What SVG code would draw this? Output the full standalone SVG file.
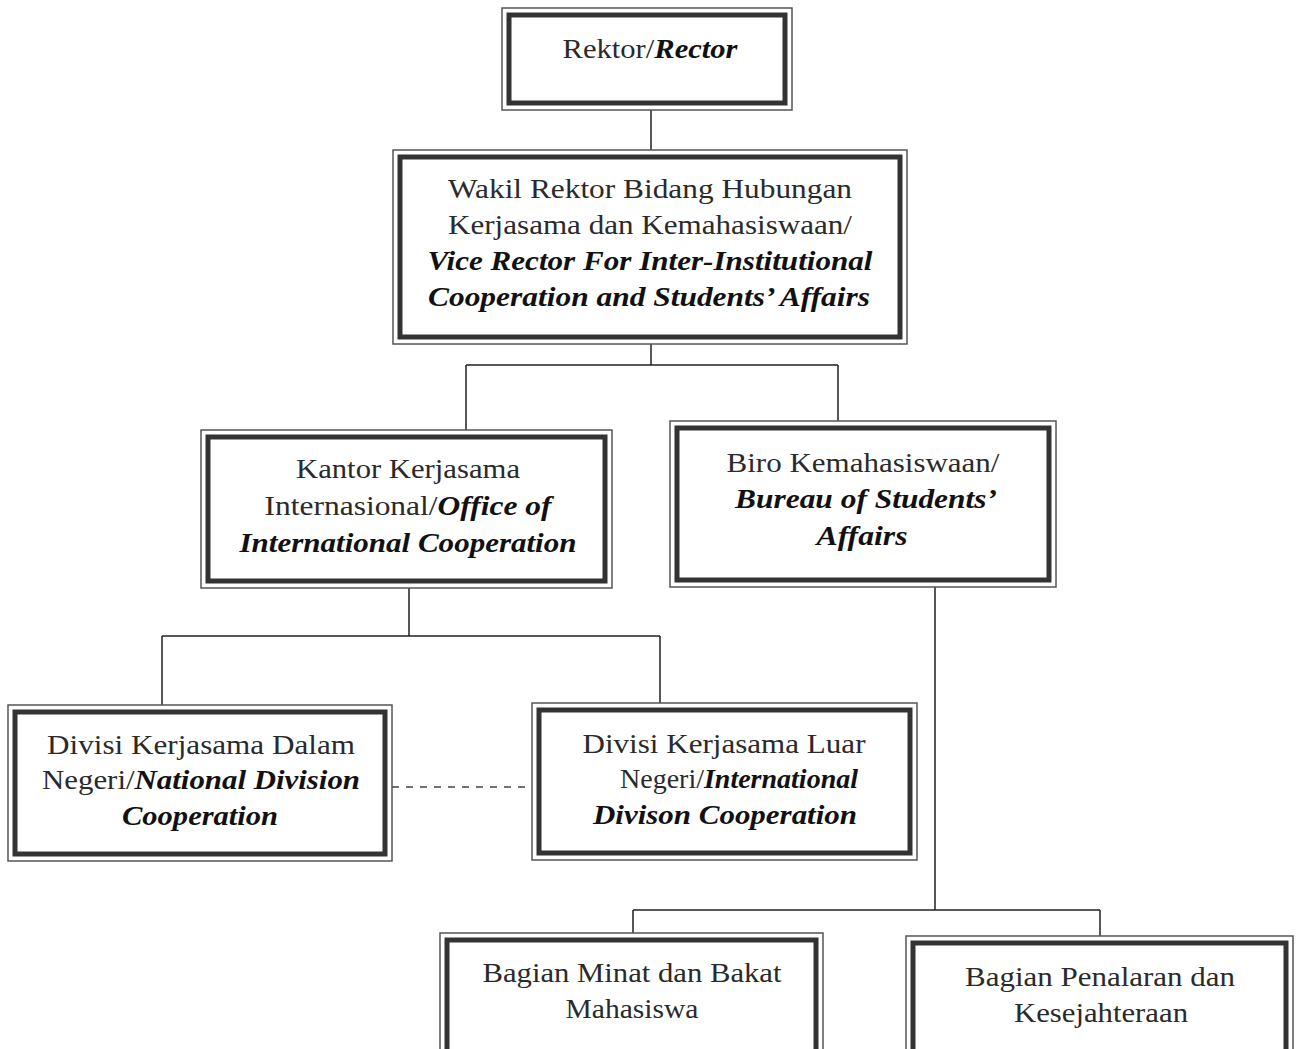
<svg xmlns="http://www.w3.org/2000/svg" width="1297" height="1049" viewBox="0 0 1297 1049">
<style>
.outer{fill:none;stroke:#555;stroke-width:1.5}
.inner{fill:#fff;stroke:#333;stroke-width:5}
text{font-family:"Liberation Serif","Times New Roman",serif}
.t{font-size:28px;fill:#2a2a2a;text-anchor:middle}
.bi{font-weight:bold;font-style:italic;fill:#111}
.c{fill:none;stroke:#222;stroke-width:1.5}
.d{fill:none;stroke:#444;stroke-width:1.5;stroke-dasharray:7 7}
</style>
<rect width="1297" height="1049" fill="#fff"/>
<g id="connectors">
<path class="c" d="M651 110V150M651 344V365M466 365H838M466 365V430M838 365V421"/>
<path class="c" d="M409 588V636M162 636H660M162 636V705M660 636V703"/>
<path class="d" d="M392 787H532"/>
<path class="c" d="M935 587V910M633 910H1100M633 910V933M1100 910V936"/>
</g>
<g id="rektor">
<rect class="outer" x="502" y="8" width="290" height="102"/>
<rect class="inner" x="509" y="15" width="276" height="88"/>
<text class="t" x="650" y="58" textLength="175" lengthAdjust="spacingAndGlyphs">Rektor/<tspan class="bi">Rector</tspan></text>
</g>
<g id="wakil">
<rect class="outer" x="393" y="150" width="514" height="194"/>
<rect class="inner" x="400" y="157" width="500" height="180"/>
<text class="t" x="650" y="198" textLength="404" lengthAdjust="spacingAndGlyphs">Wakil Rektor Bidang Hubungan</text>
<text class="t" x="650" y="234" textLength="404" lengthAdjust="spacingAndGlyphs">Kerjasama dan Kemahasiswaan/</text>
<text class="t bi" x="650" y="270" textLength="445" lengthAdjust="spacingAndGlyphs">Vice Rector For Inter-Institutional</text>
<text class="t bi" x="649" y="306" textLength="442" lengthAdjust="spacingAndGlyphs">Cooperation and Students’ Affairs</text>
</g>
<g id="kantor">
<rect class="outer" x="201" y="430" width="411" height="158"/>
<rect class="inner" x="208" y="437" width="397" height="144"/>
<text class="t" x="408" y="478" textLength="224" lengthAdjust="spacingAndGlyphs">Kantor Kerjasama</text>
<text class="t" x="408" y="515" textLength="287" lengthAdjust="spacingAndGlyphs">Internasional/<tspan class="bi">Office of</tspan></text>
<text class="t bi" x="408" y="552" textLength="337" lengthAdjust="spacingAndGlyphs">International Cooperation</text>
</g>
<g id="biro">
<rect class="outer" x="670" y="421" width="386" height="166"/>
<rect class="inner" x="677" y="428" width="372" height="152"/>
<text class="t" x="863" y="472" textLength="273" lengthAdjust="spacingAndGlyphs">Biro Kemahasiswaan/</text>
<text class="t bi" x="866" y="508" textLength="262" lengthAdjust="spacingAndGlyphs">Bureau of Students’</text>
<text class="t bi" x="862" y="545" textLength="91" lengthAdjust="spacingAndGlyphs">Affairs</text>
</g>
<g id="divisi-dalam">
<rect class="outer" x="8" y="705" width="384" height="156"/>
<rect class="inner" x="15" y="712" width="370" height="142"/>
<text class="t" x="201" y="754" textLength="308" lengthAdjust="spacingAndGlyphs">Divisi Kerjasama Dalam</text>
<text class="t" x="201" y="789" textLength="318" lengthAdjust="spacingAndGlyphs">Negeri/<tspan class="bi">National Division</tspan></text>
<text class="t bi" x="200" y="825" textLength="156" lengthAdjust="spacingAndGlyphs">Cooperation</text>
</g>
<g id="divisi-luar">
<rect class="outer" x="532" y="703" width="385" height="157"/>
<rect class="inner" x="539" y="710" width="371" height="143"/>
<text class="t" x="724" y="753" textLength="283" lengthAdjust="spacingAndGlyphs">Divisi Kerjasama Luar</text>
<text class="t" x="739" y="788" textLength="238" lengthAdjust="spacingAndGlyphs">Negeri/<tspan class="bi">International</tspan></text>
<text class="t bi" x="725" y="824" textLength="264" lengthAdjust="spacingAndGlyphs">Divison Cooperation</text>
</g>
<g id="bagian-minat">
<rect class="outer" x="440" y="933" width="383" height="130"/>
<rect class="inner" x="447" y="940" width="369" height="116"/>
<text class="t" x="632" y="982" textLength="299" lengthAdjust="spacingAndGlyphs">Bagian Minat dan Bakat</text>
<text class="t" x="632" y="1018" textLength="133" lengthAdjust="spacingAndGlyphs">Mahasiswa</text>
</g>
<g id="bagian-penalaran">
<rect class="outer" x="906" y="936" width="387" height="130"/>
<rect class="inner" x="913" y="943" width="373" height="116"/>
<text class="t" x="1100" y="986" textLength="270" lengthAdjust="spacingAndGlyphs">Bagian Penalaran dan</text>
<text class="t" x="1101" y="1022" textLength="174" lengthAdjust="spacingAndGlyphs">Kesejahteraan</text>
</g>
</svg>
